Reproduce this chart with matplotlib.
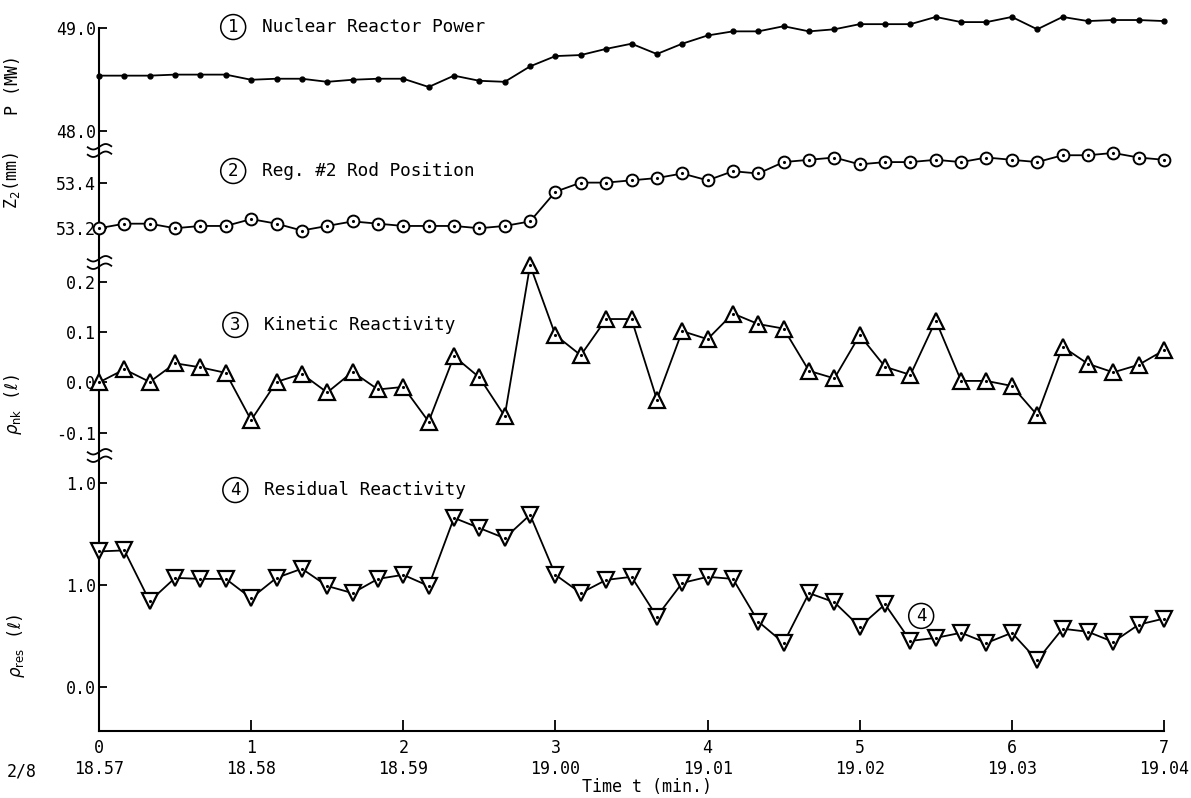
import numpy as np
import matplotlib.pyplot as plt
from matplotlib.path import Path

plt.rcParams['font.family'] = ['DejaVu Sans Mono', 'DejaVu Sans']
plt.rcParams['mathtext.fontset'] = 'dejavusans'
plt.rcParams['font.size'] = 12

# sampling every 10 s over 7 minutes
t = np.arange(43) / 6.0

power = [48.54, 48.54, 48.54, 48.55, 48.55, 48.55, 48.50, 48.51, 48.51, 48.48,
         48.50, 48.51, 48.51, 48.43, 48.54, 48.49, 48.48, 48.63, 48.73, 48.74,
         48.80, 48.85, 48.75, 48.85, 48.93, 48.97, 48.97, 49.02, 48.97, 48.99,
         49.04, 49.04, 49.04, 49.11, 49.06, 49.06, 49.11, 48.99, 49.11, 49.07,
         49.08, 49.08, 49.07]
rod = [53.20, 53.22, 53.22, 53.20, 53.21, 53.21, 53.24, 53.22, 53.19, 53.21,
       53.23, 53.22, 53.21, 53.21, 53.21, 53.20, 53.21, 53.23, 53.36, 53.40,
       53.40, 53.41, 53.42, 53.44, 53.41, 53.45, 53.44, 53.49, 53.50, 53.51,
       53.48, 53.49, 53.49, 53.50, 53.49, 53.51, 53.50, 53.49, 53.52, 53.52,
       53.53, 53.51, 53.50]
rho_nk = [0.000, 0.026, 0.001, 0.038, 0.030, 0.019, -0.075, 0.001, 0.017, -0.020,
          0.021, -0.014, -0.009, -0.078, 0.052, 0.010, -0.067, 0.233, 0.094, 0.054,
          0.126, 0.126, -0.034, 0.102, 0.086, 0.137, 0.116, 0.107, 0.023, 0.008,
          0.094, 0.031, 0.015, 0.123, 0.003, 0.003, -0.007, -0.065, 0.071, 0.037,
          0.020, 0.035, 0.064]
rho_res = [1.33, 1.34, 0.84, 1.07, 1.06, 1.06, 0.87, 1.07, 1.16, 0.99,
           0.92, 1.06, 1.10, 0.99, 1.66, 1.56, 1.46, 1.69, 1.10, 0.92,
           1.05, 1.08, 0.69, 1.02, 1.08, 1.06, 0.64, 0.43, 0.92, 0.83,
           0.59, 0.81, 0.45, 0.48, 0.53, 0.43, 0.53, 0.26, 0.57, 0.54,
           0.44, 0.61, 0.67]

min_ticks = [0, 1, 2, 3, 4, 5, 6, 7]
clock_labels = ['18.57', '18.58', '18.59', '19.00', '19.01', '19.02', '19.03', '19.04']

fig = plt.figure(figsize=(11.91, 7.98), dpi=100)


def fy(y):
    return 1 - y / 798.0


left = 99 / 1191.0
width = (1164 - 99) / 1191.0
edges = [5, 150, 262, 455, 731]
axes = []
for i in range(4):
    ax = fig.add_axes([left, fy(edges[i + 1]), width, fy(edges[i]) - fy(edges[i + 1])])
    axes.append(ax)
ax1, ax2, ax3, ax4 = axes

lw = 1.3
kw = dict(color='k', lw=lw, clip_on=False, zorder=3)
ax1.plot(t, power, marker='o', ms=3.5, **kw)
ax2.plot(t, rod, marker='o', ms=8.5, mfc='white', mec='k', mew=1.4, **kw)
ax3.plot(t, rho_nk, marker='^', ms=11, mfc='white', mec='k', mew=1.6, **kw)
ax4.plot(t, rho_res, marker='v', ms=11, mfc='white', mec='k', mew=1.6, **kw)
for ax, v in zip([ax2, ax3, ax4], [rod, rho_nk, rho_res]):
    ax.plot(t, v, 'k.', ms=2.5, clip_on=False, zorder=4)

ax1.set_ylim(47.818, 49.226)
ax2.set_ylim(53.052, 53.543)
ax3.set_ylim(-0.1443, 0.2394)
ax4.set_ylim(-0.4356, 2.278)

ax1.set_yticks([48.0, 49.0], ['48.0', '49.0'])
ax2.set_yticks([53.2, 53.4], ['53.2', '53.4'])
ax3.set_yticks([-0.1, 0.0, 0.1, 0.2], ['-0.1', '0.0', '0.1', '0.2'])
ax4.set_yticks([0.0, 1.0, 2.0], ['0.0', '1.0', '1.0'])

for ax in axes:
    ax.set_xlim(0, 7)
    for s in ['top', 'right', 'bottom']:
        ax.spines[s].set_visible(False)
    ax.spines['left'].set_linewidth(1.5)
    ax.tick_params(axis='y', direction='in', length=6, width=1.3, pad=2, labelsize=12)
    ax.tick_params(axis='x', bottom=False, labelbottom=False)
    ax.patch.set_visible(False)
ax1.spines['left'].set_bounds(47.818, 49.0)

ax4.spines['bottom'].set_visible(True)
ax4.spines['bottom'].set_linewidth(1.5)
ax4.set_xticks(min_ticks, ['%d\n%s' % (m, c) for m, c in zip(min_ticks, clock_labels)])
ax4.tick_params(axis='x', bottom=True, labelbottom=True, direction='in',
                length=8, width=1.3, pad=6, labelsize=12)
ax4.set_xlabel('Time t (min.)', fontsize=12, va='center')
ax4.xaxis.set_label_coords(0.515, -0.203)
fig.text(22 / 1191.0, fy(772), '2/8', fontsize=12, ha='center', va='center')

ax1.set_ylabel('P (MW)')
ax2.set_ylabel('Z$_2$(mm)')
ax3.set_ylabel(r'$\rho_{\mathrm{nk}}$ ($\ell$)')
ax4.set_ylabel(r'$\rho_{\mathrm{res}}$ ($\ell$)')
ax1.yaxis.set_label_coords(-0.072, 0.45)
ax2.yaxis.set_label_coords(-0.072, 0.73)
ax3.yaxis.set_label_coords(-0.070, 0.26)
ax4.yaxis.set_label_coords(-0.068, 0.31)

# axis break marks
xs = np.linspace(-1, 1, 25)
ys = 0.22 * np.sin(np.pi * xs)
verts = [(x, y + 0.3) for x, y in zip(xs, ys)] + [(x, y - 0.3) for x, y in zip(xs, ys)]
codes = ([Path.MOVETO] + [Path.LINETO] * (len(xs) - 1)) * 2
brk = Path(verts, codes)
for ax in [ax1, ax2, ax3]:
    ax.plot([0], [0], transform=ax.transAxes, marker=brk, ms=18, mew=1.3,
            color='k', mfc='none', clip_on=False, zorder=5)

# curve captions
caps = [(ax1, '1', 'Nuclear Reactor Power', 0.126, 0.848),
        (ax2, '2', 'Reg. #2 Rod Position', 0.126, 0.8125),
        (ax3, '3', 'Kinetic Reactivity', 0.128, 0.674),
        (ax4, '4', 'Residual Reactivity', 0.128, 0.873)]
circ = dict(boxstyle='circle,pad=0.2', fc='white', ec='k', lw=1.1)
for ax, n, txt, x, y in caps:
    ax.text(x, y, n, transform=ax.transAxes, ha='center', va='center',
            fontsize=12.5, bbox=circ)
    ax.text(x + 0.027, y, txt, transform=ax.transAxes, ha='left', va='center',
            fontsize=12.8)
ax4.text(0.772, 0.417, '4', transform=ax4.transAxes, ha='center', va='center',
         fontsize=12.5, bbox=circ)

fig.savefig('out.png', dpi=100)
